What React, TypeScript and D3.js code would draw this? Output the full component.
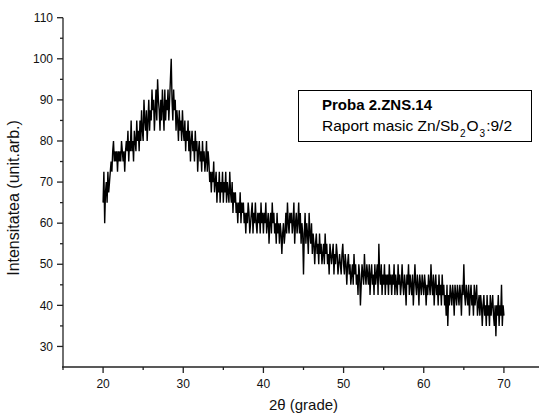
import React from 'react';
import * as d3 from 'd3';

// intensity readings, 0.1 deg step
const angleStart = 20;
const angleStep = 0.1;
const intensity20 = [
  65, 72.5, 60, 67.5, 70, 65, 72.5, 67.5, 70, 72.5,
  75, 72.5, 77.5, 80, 75, 77.5, 75, 77.5, 72.5, 77.5,
  75, 77.5, 75, 80, 77.5, 75, 77.5, 72.5, 77.5, 80,
  77.5, 82.5, 75, 80, 77.5, 85, 77.5, 80, 75, 82.5,
  80, 77.5, 85, 80, 82.5, 77.5, 85, 80, 87.5, 82.5,
  80, 90, 85, 82.5, 87.5, 80, 85, 90, 82.5, 87.5,
  85, 92.5, 87.5, 90, 82.5, 87.5, 92.5, 85, 95, 90,
  87.5, 82.5, 90, 85, 92.5, 87.5, 82.5, 92.5, 85, 90,
  87.5, 92.5, 85, 90, 95, 100, 90, 85, 92.5, 87.5,
  90, 82.5, 87.5, 85, 80, 87.5, 82.5, 85, 80, 87.5,
];
const intensity30 = [
  82.5, 80, 85, 77.5, 82.5, 80, 85, 77.5, 82.5, 75,
  80, 82.5, 77.5, 80, 75, 82.5, 77.5, 80, 72.5, 77.5,
  80, 75, 77.5, 72.5, 80, 75, 77.5, 72.5, 75, 80,
  72.5, 77.5, 75, 70, 72.5, 67.5, 72.5, 70, 75, 67.5,
  70, 72.5, 65, 70, 67.5, 72.5, 65, 70, 67.5, 72.5,
  65, 70, 67.5, 72.5, 65, 70, 67.5, 65, 72.5, 67.5,
  65, 70, 62.5, 67.5, 65, 67.5, 62.5, 65, 60, 65,
  62.5, 67.5, 60, 65, 62.5, 65, 60, 62.5, 57.5, 62.5,
  60, 65, 62.5, 57.5, 60, 62.5, 65, 57.5, 62.5, 60,
  65, 60, 57.5, 62.5, 60, 62.5, 57.5, 65, 60, 62.5,
];
const intensity40 = [
  57.5, 62.5, 60, 65, 57.5, 60, 62.5, 55, 60, 62.5,
  57.5, 65, 60, 62.5, 57.5, 60, 55, 62.5, 57.5, 60,
  55, 60, 57.5, 52.5, 57.5, 60, 55, 57.5, 62.5, 57.5,
  65, 60, 57.5, 62.5, 60, 62.5, 57.5, 60, 65, 55,
  60, 62.5, 57.5, 60, 65, 57.5, 62.5, 55, 60, 57.5,
  47.5, 57.5, 62.5, 55, 60, 57.5, 52.5, 62.5, 57.5, 55,
  60, 52.5, 57.5, 55, 50, 55, 57.5, 52.5, 55, 50,
  57.5, 52.5, 55, 50, 52.5, 55, 50, 57.5, 52.5, 55,
  50, 52.5, 47.5, 55, 52.5, 50, 52.5, 55, 47.5, 52.5,
  50, 55, 52.5, 47.5, 50, 52.5, 50, 47.5, 52.5, 55,
];
const intensity50 = [
  50, 47.5, 52.5, 50, 45, 50, 52.5, 47.5, 50, 45,
  47.5, 50, 45, 52.5, 47.5, 50, 45, 47.5, 42.5, 50,
  47.5, 40, 45, 50, 47.5, 45, 52.5, 47.5, 45, 50,
  47.5, 45, 50, 42.5, 47.5, 50, 45, 47.5, 42.5, 50,
  45, 47.5, 50, 42.5, 55, 47.5, 45, 50, 42.5, 47.5,
  45, 50, 42.5, 47.5, 45, 47.5, 42.5, 50, 45, 47.5,
  42.5, 47.5, 45, 50, 42.5, 47.5, 45, 42.5, 50, 45,
  47.5, 42.5, 45, 50, 45, 42.5, 47.5, 45, 40, 47.5,
  45, 50, 42.5, 47.5, 45, 42.5, 47.5, 40, 45, 50,
  45, 42.5, 47.5, 45, 40, 47.5, 45, 42.5, 47.5, 45,
];
const intensity60 = [
  42.5, 47.5, 45, 40, 45, 42.5, 47.5, 45, 42.5, 50,
  45, 42.5, 47.5, 40, 45, 47.5, 42.5, 45, 40, 47.5,
  42.5, 45, 40, 47.5, 42.5, 45, 40, 42.5, 37.5, 45,
  35, 42.5, 40, 45, 42.5, 40, 45, 42.5, 37.5, 45,
  42.5, 40, 45, 42.5, 40, 45, 42.5, 37.5, 45, 42.5,
  50, 42.5, 40, 45, 42.5, 40, 45, 37.5, 42.5, 45,
  40, 42.5, 37.5, 45, 40, 42.5, 45, 37.5, 40, 42.5,
  37.5, 42.5, 40, 35, 40, 42.5, 37.5, 40, 35, 42.5,
  37.5, 40, 35, 42.5, 37.5, 40, 42.5, 37.5, 35, 40,
  32.5, 40, 37.5, 42.5, 35, 40, 37.5, 45, 35, 40,
  37.5,
];

const yTicks = [30, 40, 50, 60, 70, 80, 90, 100, 110];
const xTicks = [20, 30, 40, 50, 60, 70];

const intensity = [...intensity20, ...intensity30, ...intensity40, ...intensity50, ...intensity60];
const pattern = intensity.map((v, i) => ({ angle: angleStart + i * angleStep, value: v }));

const App = () => {
  const width = 539;
  const height = 417;
  const x = d3.scaleLinear().domain([15, 75]).range([63, 544]);
  const y = d3.scaleLinear().domain([25, 110]).range([367, 17.7]);

  const line = d3.line<{ angle: number; value: number }>()
    .x(d => x(d.angle))
    .y(d => y(d.value));

  const yMinor = d3.range(35, 110, 10);
  const xMinor = d3.range(25, 76, 10);
  const axisColor = '#222';

  return (
    <div style={{ position: 'absolute', left: 0, top: 0 }}>
      <svg width={width} height={height} style={{ display: 'block', fontFamily: 'Arial, "Liberation Sans", sans-serif' }}>
        <rect width={width} height={height} fill="#fff" />

        {/* data */}
        <path d={line(pattern) || ''} fill="none" stroke="#000" strokeWidth={1.4} strokeLinejoin="miter" />

        {/* left axis */}
        <line x1={x(15)} x2={x(15)} y1={y(25)} y2={y(110)} stroke={axisColor} strokeWidth={1.3} />
        {yTicks.map(t => (
          <g key={'yt' + t}>
            <line x1={x(15) - 6} x2={x(15)} y1={y(t)} y2={y(t)} stroke={axisColor} strokeWidth={1.3} />
            <text x={x(15) - 10} y={y(t)} dy="0.35em" textAnchor="end" fontSize={12} fill="#111">{t}</text>
          </g>
        ))}
        {yMinor.map(t => (
          <line key={'ym' + t} x1={x(15) - 3} x2={x(15)} y1={y(t)} y2={y(t)} stroke={axisColor} strokeWidth={1.3} />
        ))}

        {/* bottom axis */}
        <line x1={x(15) - 1} x2={x(75)} y1={y(25)} y2={y(25)} stroke={axisColor} strokeWidth={1.3} />
        {xTicks.map(t => (
          <g key={'xt' + t}>
            <line x1={x(t)} x2={x(t)} y1={y(25)} y2={y(25) + 6} stroke={axisColor} strokeWidth={1.3} />
            <text x={x(t)} y={388} textAnchor="middle" fontSize={12} fill="#111">{t}</text>
          </g>
        ))}
        {xMinor.map(t => (
          <line key={'xm' + t} x1={x(t)} x2={x(t)} y1={y(25)} y2={y(25) + 3} stroke={axisColor} strokeWidth={1.3} />
        ))}
        <line x1={x(15)} x2={x(15)} y1={y(25)} y2={y(25) + 3} stroke={axisColor} strokeWidth={1.3} />

        {/* axis titles */}
        <text x={(x(15) + x(75)) / 2} y={410} textAnchor="middle" fontSize={15} fill="#111">2θ (grade)</text>
        <text transform={`translate(19,198) rotate(-90)`} textAnchor="middle" fontSize={16} fill="#111">
          Intensitatea (unit.arb.)
        </text>

        {/* legend box */}
        <rect x={298.5} y={90.5} width={233} height={51} fill="#fff" stroke="#000" strokeWidth={1} />
        <text x={322} y={110} fontSize={15} fontWeight="bold" fill="#000">Proba 2.ZNS.14</text>
        <text x={322} y={131} fontSize={15.5} fill="#000">
          Raport masic Zn/Sb
          <tspan fontSize={10} dx={1} dy={6}>2</tspan>
          <tspan dx={1} dy={-6}>O</tspan>
          <tspan fontSize={10} dx={1} dy={6}>3</tspan>
          <tspan dx={1} dy={-6}>:9/2</tspan>
        </text>
      </svg>
    </div>
  );
};

export default App;
